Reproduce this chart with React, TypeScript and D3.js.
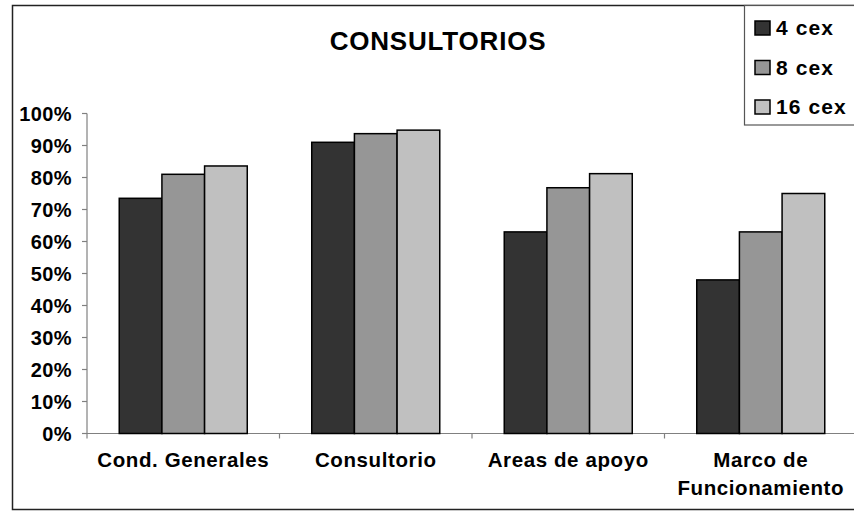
import React from "react";
import * as d3 from "d3";

const categories = [["Cond. Generales"], ["Consultorio"], ["Areas de apoyo"], ["Marco de", "Funcionamiento"]];
const seriesNames = ["4 cex", "8 cex", "16 cex"];
const colors = ["#333333", "#969696", "#c0c0c0"];
const cex4 = [0.735, 0.91, 0.63, 0.48];
const cex8 = [0.81, 0.937, 0.768, 0.63];
const cex16 = [0.836, 0.948, 0.812, 0.75];
const yTicks = [0, 0.1, 0.2, 0.3, 0.4, 0.5, 0.6, 0.7, 0.8, 0.9, 1];

const W = 854;
const H = 512;
const font = "'Liberation Sans', Arial, sans-serif";

export default function App() {
  const seriesValues = [cex4, cex8, cex16];
  const catKeys = categories.map(c => c.join(" "));

  const x0 = d3.scaleBand()
    .domain(catKeys)
    .range([87, 857])
    .paddingInner(0.335)
    .paddingOuter(0.1675);
  const x1 = d3.scaleBand()
    .domain(seriesNames)
    .range([0, x0.bandwidth()]);
  const y = d3.scaleLinear().domain([0, 1]).range([433.5, 113.5]);
  const fmt = d3.format(".0%");

  const step = x0.step();
  const boundaries = d3.range(0, catKeys.length + 1).map(i => 87 + i * step);

  return (
    <svg width={W} height={H} style={{ position: "absolute", left: 0, top: 0, background: "#fff" }}>
      {/* chart frame */}
      <rect x={12.5} y={5.5} width={W + 10} height={504} fill="#fff" stroke="#222" strokeWidth={1.5} />

      <text x={438} y={49.5} textAnchor="middle" fontFamily={font} fontWeight="bold" fontSize={26} letterSpacing={0.8}>
        CONSULTORIOS
      </text>

      {/* y axis */}
      <line x1={87} x2={87} y1={y(1)} y2={y(0)} stroke="#808080" strokeWidth={1.2} />
      {yTicks.map(t => (
        <g key={t}>
          <line x1={82} x2={87} y1={y(t)} y2={y(t)} stroke="#808080" strokeWidth={1.2} />
          <text x={72} y={y(t)} dy="0.36em" textAnchor="end" fontFamily={font} fontWeight="bold" fontSize={20} letterSpacing={0.4}>
            {fmt(t)}
          </text>
        </g>
      ))}

      {/* x axis */}
      <line x1={87} x2={W} y1={y(0)} y2={y(0)} stroke="#808080" strokeWidth={1.2} />
      {boundaries.map((b, i) => (
        <line key={i} x1={b} x2={b} y1={y(0)} y2={y(0) + 5} stroke="#808080" strokeWidth={1.2} />
      ))}

      {/* bars */}
      {catKeys.map((c, ci) => (
        <g key={c} transform={`translate(${x0(c)},0)`}>
          {seriesNames.map((s, si) => (
            <rect
              key={s}
              x={x1(s)}
              y={y(seriesValues[si][ci])}
              width={x1.bandwidth()}
              height={y(0) - y(seriesValues[si][ci])}
              fill={colors[si]}
              stroke="#000"
              strokeWidth={1.5}
            />
          ))}
        </g>
      ))}

      {/* category labels */}
      {categories.map((lines, ci) => (
        <text key={ci} textAnchor="middle" fontFamily={font} fontWeight="bold" fontSize={20.5} letterSpacing={0.6}>
          {lines.map((l, li) => (
            <tspan key={li} x={(x0(catKeys[ci]) || 0) + x0.bandwidth() / 2} y={467 + li * 28}>
              {l}
            </tspan>
          ))}
        </text>
      ))}

      {/* legend */}
      <rect x={744.5} y={5.5} width={120} height={119.5} fill="#fff" stroke="#555" strokeWidth={1.2} />
      {seriesNames.map((s, i) => (
        <g key={s} transform={`translate(755,${21 + i * 39.5})`}>
          <rect x={0} y={0} width={15} height={14} fill={colors[i]} stroke="#000" strokeWidth={1.5} />
          <text x={21} y={14} fontFamily={font} fontWeight="bold" fontSize={21} letterSpacing={1.1}>
            {s}
          </text>
        </g>
      ))}
    </svg>
  );
}
